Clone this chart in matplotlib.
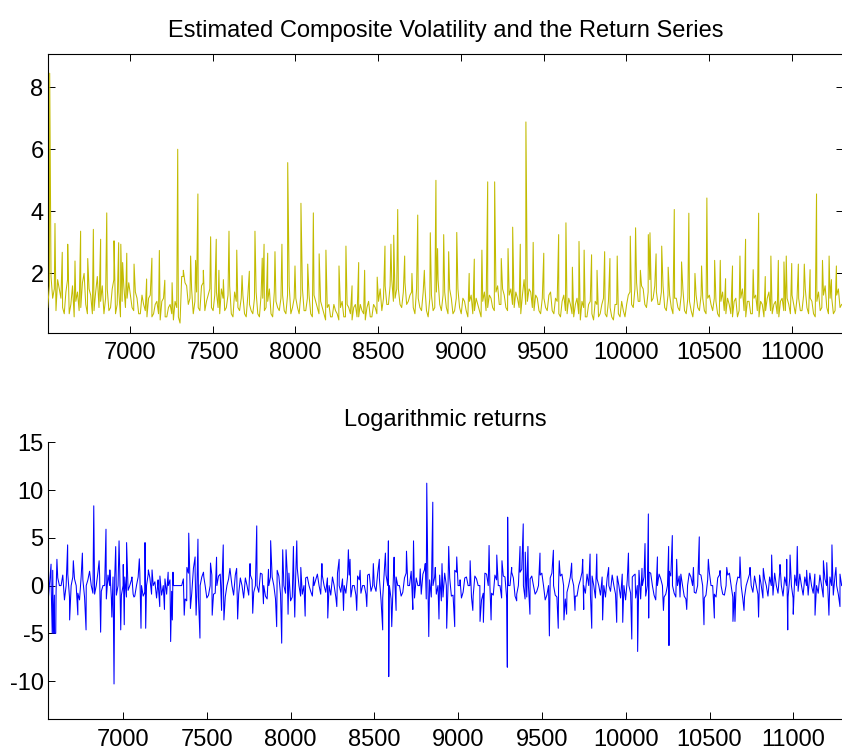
import numpy as np
import matplotlib
matplotlib.use("Agg")
import matplotlib.pyplot as plt

plt.rcParams["font.family"] = ["Liberation Sans", "DejaVu Sans"]
plt.rcParams["axes.unicode_minus"] = False

# ---- volatility (top panel) ----
# background level read every 20 days, two interleaved passes (offset 10 days)
VOL_START, VOL_STEP = 6502, 20
vol_base = [
    0.9, 1.9, 1.5, 1.8, 1.2, 0.7, 1.8, 1.0, 0.6, 1.4, 0.9, 2.0, 0.7, 1.3, 0.8, 1.9, 1.1, 0.7, 1.5, 0.9, 1.8, 1.0, 0.6, 1.6, 1.2,
    1.3, 0.8, 1.2, 0.7, 1.0, 0.6, 1.3, 0.7, 1.1, 0.5, 1.2, 0.6, 1.0, 0.5, 0.9, 0.4, 2.1, 1.6, 1.2, 0.7, 1.4, 0.8, 1.7, 1.1, 1.5,
    0.8, 1.4, 0.7, 1.2, 0.9, 1.6, 0.6, 1.1, 0.8, 1.3, 0.6, 1.0, 0.7, 1.4, 0.6, 1.2, 0.9, 1.5, 0.6, 1.1, 0.8, 1.3, 0.7, 1.6, 0.9,
    1.2, 0.7, 1.5, 0.8, 1.3, 0.6, 1.1, 0.7, 0.9, 0.5, 1.0, 0.6, 0.8, 0.5, 1.1, 0.6, 0.9, 0.5, 1.0, 0.6, 0.8, 0.5, 1.1, 0.6, 0.9,
    1.1, 0.8, 1.6, 1.0, 1.8, 1.2, 1.5, 0.9, 1.7, 1.1, 1.4, 0.7, 1.2, 0.8, 1.6, 0.6, 1.3, 0.9, 1.8, 0.8, 1.4, 0.7, 1.2, 0.8, 1.5,
    0.7, 1.1, 0.6, 1.3, 0.8, 1.0, 0.6, 1.4, 0.9, 1.2, 0.8, 1.6, 1.0, 1.3, 0.8, 1.5, 0.9, 1.2, 0.7, 1.8, 1.1, 1.4, 0.8, 1.2, 0.7,
    1.2, 0.8, 1.4, 0.7, 1.1, 0.6, 1.3, 0.7, 1.0, 0.6, 1.2, 0.5, 0.9, 0.6, 1.1, 0.5, 1.0, 0.7, 1.2, 0.6, 0.9, 0.5, 1.0, 0.6, 0.8,
    1.0, 1.4, 0.9, 1.7, 1.1, 1.5, 0.9, 1.8, 1.2, 1.4, 1.0, 1.6, 0.8, 1.3, 0.7, 1.2, 0.8, 1.5, 0.7, 1.1, 0.6, 1.3, 0.8, 1.2, 0.7,
    1.3, 0.8, 1.1, 0.6, 1.4, 0.7, 1.0, 0.6, 1.2, 0.8, 1.5, 0.6, 1.1, 0.7, 1.3, 0.6, 1.0, 0.8, 1.4, 0.7, 1.1, 0.6, 1.2, 0.8, 1.0,
    1.3, 0.7, 1.2, 0.8, 1.5, 0.7, 1.1, 0.6, 1.4, 0.9, 1.6, 0.7, 1.2, 0.8, 1.5, 1.0,
]
vol_base2 = [
    1.6, 1.2, 0.8, 1.5, 0.9, 1.4, 0.7, 1.6, 1.1, 0.8, 1.7, 1.0, 1.5, 0.7, 1.4, 0.9, 1.6, 1.2, 0.8, 1.5, 0.7, 1.4, 1.1, 0.9, 1.7,
    0.9, 1.4, 0.7, 1.3, 0.8, 1.2, 0.6, 1.0, 0.7, 1.1, 0.6, 0.9, 0.7, 1.1, 0.6, 1.9, 1.7, 1.0, 1.5, 1.1, 0.9, 1.6, 0.8, 1.3, 0.9,
    1.3, 0.9, 1.5, 0.8, 1.3, 0.7, 1.4, 0.9, 1.2, 0.7, 1.3, 0.8, 1.2, 0.7, 1.3, 0.8, 1.1, 0.7, 1.4, 0.9, 1.2, 0.8, 1.3, 0.7, 1.2,
    0.9, 1.3, 0.8, 1.2, 0.7, 1.3, 0.9, 1.1, 0.7, 0.9, 0.6, 1.0, 0.7, 0.9, 0.6, 1.0, 0.7, 0.9, 0.6, 1.0, 0.7, 0.9, 0.6, 1.0, 0.7,
    1.5, 1.2, 1.0, 1.6, 1.1, 1.5, 1.0, 1.4, 1.0, 1.3, 0.9, 1.5, 0.9, 1.4, 0.8, 1.2, 0.8, 1.4, 1.0, 1.3, 0.9, 1.5, 0.7, 1.2, 0.9,
    1.2, 0.8, 1.1, 0.7, 1.2, 0.8, 1.1, 0.8, 1.3, 0.9, 1.4, 1.0, 1.5, 0.9, 1.3, 1.0, 1.4, 0.9, 1.3, 1.0, 1.5, 0.9, 1.3, 0.8, 1.2,
    0.9, 1.3, 0.8, 1.2, 0.7, 1.1, 0.8, 1.2, 0.7, 1.0, 0.7, 1.1, 0.6, 1.0, 0.7, 1.1, 0.6, 1.0, 0.7, 1.1, 0.6, 1.0, 0.7, 1.1, 0.6,
    1.3, 1.0, 1.5, 1.1, 1.6, 1.0, 1.4, 1.1, 1.6, 1.0, 1.4, 0.9, 1.3, 0.9, 1.2, 0.9, 1.3, 0.8, 1.2, 0.8, 1.1, 0.9, 1.3, 0.8, 1.2,
    1.0, 1.2, 0.7, 1.1, 0.8, 1.2, 0.7, 1.1, 0.6, 1.2, 0.8, 1.1, 0.7, 1.2, 0.8, 1.1, 0.6, 1.2, 0.8, 1.0, 0.7, 1.1, 0.8, 1.2, 0.7,
    1.0, 1.2, 0.8, 1.3, 0.9, 1.2, 0.7, 1.1, 0.8, 1.3, 0.9, 1.2, 0.7, 1.3, 0.9,
]
# spikes: day, value
vol_spike_x = [
    6514, 6546, 6590, 6623, 6667, 6701, 6744, 6778, 6822, 6859, 6903, 6931, 6944, 6955, 6980,
    7024, 7100, 7132, 7177, 7210, 7254, 7288, 7321, 7366, 7396, 7410, 7443, 7487, 7521, 7537,
    7564, 7598, 7645, 7677, 7721, 7755, 7799, 7810, 7832, 7876, 7918, 7953, 7997,
    8033, 8074, 8108, 8143, 8184, 8263, 8305, 8342, 8382, 8418, 8494, 8541, 8577, 8594, 8618,
    8660, 8704, 8739, 8779, 8815, 8849, 8859, 8896, 8926, 8975,
    9050, 9081, 9127, 9162, 9204, 9244, 9285, 9313, 9359, 9393, 9437, 9501, 9591, 9635,
    9674, 9714, 9745, 9790, 9823, 9869, 9901, 9945,
    10024, 10056, 10085, 10133, 10143, 10180, 10214, 10253, 10290, 10334, 10378, 10415, 10455, 10487,
    10534, 10568, 10600, 10642, 10687, 10721, 10767, 10800, 10840, 10874, 10919, 10953, 10967,
    11000, 11040, 11076, 11111, 11150, 11186, 11226, 11240, 11270,
]
vol_spike_y = [
    8.45, 3.61, 2.68, 2.94, 2.4, 3.36, 2.48, 3.42, 3.1, 3.95, 3.05, 2.99, 2.94, 2.35, 2.65,
    2.3, 1.82, 2.49, 2.74, 1.78, 1.7, 6.0, 1.9, 2.56, 2.42, 4.56, 2.1, 3.18, 3.1, 2.1,
    1.8, 3.36, 2.75, 1.93, 2.07, 3.36, 2.49, 2.94, 2.65, 2.7, 2.94, 5.57, 2.24,
    4.26, 2.3, 3.95, 2.63, 2.75, 2.24, 2.88, 1.6, 2.35, 2.1, 1.88, 2.88, 2.94, 3.23, 4.06,
    2.56, 2.0, 3.88, 2.1, 3.31, 5.0, 2.8, 3.25, 2.7, 3.32,
    2.0, 2.46, 2.75, 4.95, 4.95, 2.48, 2.8, 3.49, 2.94, 6.88, 3.0, 2.65, 3.25, 3.63,
    2.2, 3.03, 2.75, 2.6, 2.1, 2.7, 2.48, 2.56,
    3.2, 3.47, 2.1, 3.25, 3.31, 2.63, 2.88, 2.2, 4.06, 2.37, 3.94, 2.0, 2.24, 4.43,
    2.42, 2.42, 1.83, 2.24, 2.56, 3.1, 2.12, 3.94, 1.9, 2.56, 2.42, 2.37, 2.56,
    2.32, 2.3, 2.3, 2.12, 4.56, 2.42, 2.56, 1.8, 2.24,
]

# ---- logarithmic returns (bottom panel) ----
RET_START, RET_STEP = 6549, 20
ret_base = [
    -2.2, 0.5, -1.0, 0.8, 0, -1.5, 1.2, 0, 0.7, -0.8, 1.0, -1.2, 0.6, 0, -0.9, 1.4, -0.6, 0, 1.1, -1.3, 0.8, 0, -1.0, 0.9, -0.5,
    0.6, -1.1, 0.9, 0, -0.7, 1.2, -0.9, 0.4, 0, -1.0, 0.7, 0, -0.6, 0, 0, 0, -1.4, 1.3, -0.8, 1.5, -1.2, 0.9, 0, -1.0, 1.1,
    -0.8, 1.0, 0, -1.2, 0.7, 0, 1.1, -0.9, 0, 0.8, -1.0, 0.6, 0, -0.7, 1.2, -1.1, 0, 0.9, -1.4, 1.0, 0, -0.8, 1.3, -1.2, 0.7,
    0, -0.9, 0.8, 0, -1.1, 0.6, 0, 1.0, -0.7, 0, 0.9, -1.2, 0, 0.7, -0.8, 1.1, 0, -1.0, 0.6, 0, -0.9, 1.2, 0, -0.6, 0.8,
    -1.3, 1.1, 0, -1.0, 0.9, 0, -0.7, 1.3, 0, -1.1, 0.8, 0, 1.2, -1.4, 0.6, 0, -0.9, 1.1, -1.2, 0, 0.8, -1.0, 1.4, 0, -0.7,
    0.9, 0, -1.1, 0.7, 0, -0.8, 1.2, 0, -1.0, 0.6, 0, 1.0, -1.3, 0, 0.8, -0.9, 1.4, 0, -1.2, 0.7, 0, -0.6, 1.1, 0, -1.0,
    0.8, 0, -1.2, 1.0, 0, -0.7, 0.9, 0, -1.1, 0.6, 0, 1.2, -0.9, 0, 0.7, -1.0, 0, 0.8, -0.6, 0, 1.0, -1.3, 0, 0.6, -0.8,
    1.1, 0, -1.4, 0.9, 0, 1.3, -1.0, 0, 0.7, -1.2, 0, 1.0, -0.8, 0, 1.2, -1.1, 0, 0.9, -0.7, 0, 1.1, -1.3, 0.6, 0, -0.9,
    0.8, 0, -1.0, 1.1, 0, -0.7, 0.9, 0, -1.2, 0.6, 0, 1.0, -0.9, 0, 0.7, -1.1, 0, 1.3, -0.8, 0, 0.9, -1.2, 0, 1.1, -0.6,
    0, 0.9, -1.0, 0, 1.2, -0.8, 0, 0.7, -1.3, 0, 1.0, -0.9, 0,
]
ret_base2 = [
    0, 1.6, -0.7, 0, 1.1, 0, -1.2, 0.9, 0, -1.5, 0.6, 0, 1.5, -0.8, 0, 1.0, 0, -1.4, 0, 0.9, -1.0, 1.6, 0, -1.2, 0,
    -0.9, 0, 1.3, -1.1, 0, 0.8, 0, -1.3, 1.0, 0, -0.9, 0.6, 0, 0, 0, 0.7, -1.6, 0, 1.8, -1.0, 0, 1.4, -1.3, 0, -0.9,
    0, 1.2, -0.8, 0, 1.5, -1.0, 0, 0.8, -1.3, 0, 1.1, -0.7, 0, 1.3, 0, -1.4, 0.9, 0, 1.6, -0.9, 0, 1.4, -1.6, 0, 1.8,
    -1.1, 0, 0.9, -0.6, 0, 1.2, -0.9, 0, 0.8, -1.0, 0, 1.3, -0.7, 0, 0.9, -1.2, 0, 1.0, -0.8, 0, 1.1, -0.6, 0, 1.3, -1.5,
    1.6, 0, -1.4, 1.2, 0, -1.1, 0.8, 0, 1.5, -1.3, 0, -0.9, 1.7, 0, -1.2, 0.9, 0, -1.6, 1.3, 0, -1.1, 1.6, 0, -1.3, 0.8,
    0, -1.2, 1.0, 0, -1.5, 1.3, 0, -0.8, 1.1, 0, -1.3, 0.9, 0, 1.4, -1.1, 0, 1.7, -1.4, 0, 1.0, -0.9, 0, 1.3, -1.5, 0,
    1.3, -1.0, 0, 1.2, -1.4, 0, 0.8, -1.1, 0, 1.4, -0.8, 0, 1.0, -1.3, 0, 0.9, -1.2, 0, 1.1, -0.9, 0, 1.2, -1.5, 0, 0.9,
    -1.3, 1.6, 0, -1.1, 1.4, 0, -1.5, 1.2, 0, -0.9, 1.5, 0, -1.2, 1.0, 0, -1.4, 1.3, 0, -0.8, 1.2, 0, -1.0, 1.4, 0, -1.2,
    1.1, -0.9, 0, 1.3, -1.2, 0, 0.8, -1.4, 0, 1.2, -0.7, 0, 1.1, -1.3, 0, 0.9, -1.0, 0, 1.4, -1.1, 0, 0.8, -1.3, 0, 1.2,
    -1.0, 0, 1.3, -0.8, 0, 1.1, -1.2, 0, 0.9, -1.0, 0, 1.2,
]
ret_spike_x = [
    6569, 6576, 6583, 6590, 6597, 6604, 6668, 6680, 6702, 6729, 6756, 6778, 6824, 6856, 6865, 6897,
    6920, 6932, 6945, 6955, 6975, 6985, 7000, 7006, 7020, 7052, 7064, 7096, 7106, 7130, 7134,
    7150, 7172, 7208, 7218, 7246, 7268, 7283, 7293, 7297, 7364, 7380, 7391, 7401, 7429, 7435,
    7446, 7458, 7481, 7521, 7531, 7557, 7587, 7597, 7601, 7637, 7677, 7683, 7757, 7773, 7797,
    7837, 7867, 7880, 7916, 7946, 7952, 7972, 7984, 8016, 8024, 8036,
    8060, 8086, 8136, 8186, 8221, 8275, 8289, 8315, 8344, 8354, 8394, 8414, 8454, 8493, 8529,
    8549, 8565, 8583, 8585, 8603, 8617, 8629, 8691, 8729, 8733, 8773, 8803, 8812, 8824, 8848,
    8863, 8885, 8903, 8931, 8943, 8979, 8991, 9011, 9071, 9087, 9130, 9150, 9184, 9196, 9230,
    9261, 9293, 9295, 9319, 9349, 9369, 9388, 9400, 9416, 9428, 9488, 9544, 9568, 9597, 9603,
    9631, 9647, 9677, 9697, 9743, 9749, 9787, 9797, 9827, 9862, 9898, 9946, 9982,
    10016, 10036, 10056, 10071, 10097, 10115, 10135, 10137, 10189, 10225, 10256, 10258, 10278,
    10304, 10324, 10364, 10404, 10439, 10467, 10493, 10529, 10563, 10603, 10640, 10652, 10682,
    10706, 10742, 10793, 10821, 10871, 10921, 10961, 10967, 10981, 11000, 11024, 11080, 11130,
    11180, 11200, 11213, 11231, 11255, 11279,
]
ret_spike_y = [
    2.24, -5.0, -5.0, -5.0, -5.0, 2.75, 4.26, -3.6, 2.6, -3.07, 3.4, -4.64, 8.35, 2.6, -4.88, 5.9,
    1.64, -3.3, -10.3, 4.08, 4.68, -4.64, 2.2, -4.1, 4.5, 0.9, -1.2, 2.8, -4.47, 4.5, -4.47,
    1.64, 1.64, 0.6, -2.2, -2.5, 1.4, -5.86, -3.6, 1.4, -3.1, 1.9, 5.49, -2.4, 3.0, -3.1,
    4.86, -5.5, 0.9, 2.36, -3.1, 2.97, -2.6, 4.26, -3.6, 1.8, 1.8, -3.5, 2.3, -2.9, 6.25,
    -1.9, 1.7, 4.7, -4.3, -6.03, 3.75, 3.75, -3.0, 4.1, -3.3, 4.68,
    1.9, -3.2, 0.9, 2.3, -3.4, -2.2, 2.75, -2.6, 3.75, 2.75, -2.6, 1.6, -2.2, 2.3, 2.75,
    -4.64, 3.4, 4.68, -9.53, -4.3, 2.97, -2.6, 3.6, -2.5, 4.68, 1.75, 2.3, 10.72, -5.34, 8.73,
    1.9, -3.5, 2.3, -4.47, 4.1, -4.3, 3.0, 0.6, 2.6, -2.6, -3.75, -3.85, 4.2, -3.6, 3.2,
    2.6, -8.55, 7.16, 1.9, -1.6, 4.1, 6.46, 3.5, 4.1, -3.0, 3.4, -5.27, 3.7, -4.47, 2.6,
    -3.6, -3.0, 2.35, -2.6, 2.75, -2.5, 3.3, -4.47, 3.3, -3.6, 1.9, -3.85, -3.85,
    3.4, -5.6, 1.2, -6.9, 1.8, 4.4, 7.5, -3.4, 3.0, -2.6, 4.1, -6.28, 5.24,
    2.75, -1.2, -2.5, 1.9, 5.1, -4.1, 2.75, -3.4, 1.57, 1.9, -3.75, -3.75, 3.0,
    -2.6, 1.9, -3.3, 1.8, 3.2, 2.2, 2.75, -4.64, 3.2, -3.0, 4.1, 1.6, -3.1,
    2.6, 2.4, -3.1, 4.26, 1.9, -2.2,
]


def merged(start, step, bases, sx, sy):
    xs, ys = [np.asarray(sx, float)], [np.asarray(sy, float)]
    for k, b in enumerate(bases):
        off = k * step / len(bases)
        xs.append(start + off + step * np.arange(len(b)))
        ys.append(np.asarray(b, float))
    x = np.concatenate(xs)
    y = np.concatenate(ys)
    order = np.argsort(x, kind="stable")
    return x[order], y[order]


vx, vy = merged(VOL_START, VOL_STEP, [vol_base, vol_base2], vol_spike_x, vol_spike_y)
rx, ry = merged(RET_START, RET_STEP, [ret_base, ret_base2], ret_spike_x, ret_spike_y)

W, H = 842, 755
fig = plt.figure(figsize=(W / 100, H / 100), dpi=100)
ax1 = fig.add_axes([47.7 / W, 1 - 333.3 / H, (843 - 47.7) / W, (333.3 - 54) / H])
ax2 = fig.add_axes([47.7 / W, 1 - 719.3 / H, (843 - 47.7) / W, (719.3 - 442.3) / H])

ax1.plot(vx, vy, color="#c2bb00", lw=0.75, zorder=3)
ax1.set_xlim(6502, 11310)
ax1.set_ylim(0.07, 9.07)
ax1.set_xticks(range(7000, 11001, 500))
ax1.set_yticks([2, 4, 6, 8])
ax1.tick_params(direction="in", length=5, width=0.7, labelsize=17, top=True, right=True, pad=3)
ax1.tick_params(axis="x", pad=6)
ax1.set_title("Estimated Composite Volatility and the Return Series", fontsize=17, pad=12)

ax2.plot(rx, ry, color="#0000ff", lw=0.75)
ax2.set_xlim(6549, 11297)
ax2.set_ylim(-14, 15)
ax2.set_xticks(range(7000, 11001, 500))
ax2.set_yticks([-10, -5, 0, 5, 10, 15])
ax2.spines["top"].set_visible(False)
ax2.spines["right"].set_visible(False)
ax2.tick_params(direction="in", length=5, width=0.7, labelsize=17, pad=3)
ax2.tick_params(axis="x", pad=7)
ax2.set_title("Logarithmic returns", fontsize=17, pad=12)

for ax in (ax1, ax2):
    for s in ax.spines.values():
        s.set_linewidth(0.8)

fig.savefig("out.png", dpi=100)
